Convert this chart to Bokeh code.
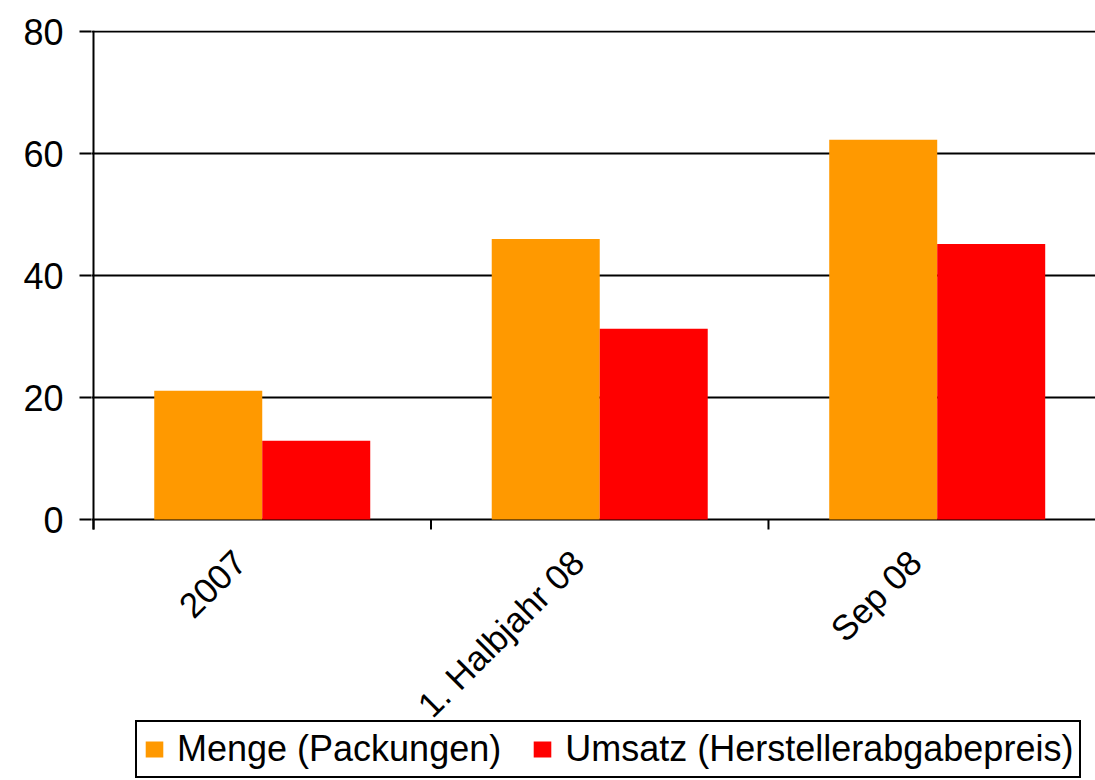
import math
from bokeh.plotting import figure
from bokeh.models import Range1d, FixedTicker, Legend, LegendItem
from bokeh.core.properties import value
from bokeh.embed import file_html
from bokeh.resources import INLINE

categories = ["2007", "1. Halbjahr 08", "Sep 08"]
menge = [21.1, 46.0, 62.3]
umsatz = [12.9, 31.3, 45.2]
y_ticks = [0, 20, 40, 60, 80]
series_names = ["Menge (Packungen)", "Umsatz (Herstellerabgabepreis)"]
colors = ["#FF9900", "#FF0000"]

FONT = "Liberation Sans"

# layout constants (pixels)
PLOT_H = 489          # height of the value area (0 .. 80.2)
Y_TOP = 80.2
PX = PLOT_H / Y_TOP   # pixels per value unit
BELOW = 261           # space under the zero line for labels and legend
CAT_PX = 337.5        # pixels per category
y_low = -BELOW / PX

p = figure(frame_width=1004, frame_height=PLOT_H + BELOW, output_backend="svg",
           toolbar_location=None, x_axis_location=None,
           x_range=Range1d(-2 / CAT_PX, 2.969), y_range=Range1d(y_low, Y_TOP),
           min_border_left=91, min_border_right=0, min_border_top=30,
           min_border_bottom=0, title=None)

centers = [i + 0.5 for i in range(len(categories))]
bw = 0.32
r1 = p.vbar(x=[c - bw / 2 for c in centers], top=menge, width=bw,
            fill_color=colors[0], line_color=None)
r2 = p.vbar(x=[c + bw / 2 for c in centers], top=umsatz, width=bw,
            fill_color=colors[1], line_color=None)

p.outline_line_color = None
p.xgrid.visible = False
p.ygrid.ticker = FixedTicker(ticks=y_ticks)   # 0-line serves as category axis
p.ygrid.grid_line_color = "black"
p.ygrid.grid_line_width = 2

# value axis line (drawn from the value range down to the tick length)
tick_len = 10 / PX
p.segment(x0=[0], y0=[-tick_len], x1=[0], y1=[Y_TOP], line_color="black", line_width=2)

# category boundary tick marks
bounds = list(range(len(categories) + 1))
p.segment(x0=bounds, y0=[0] * len(bounds), x1=bounds, y1=[-tick_len] * len(bounds),
          line_color="black", line_width=2)

# rotated category labels
p.text(x=[c - 22 / CAT_PX for c in centers], y=[-37 / PX] * len(centers), text=categories,
       angle=math.pi / 4, text_align="right", text_baseline="middle",
       text_font=value(FONT), text_font_size=value("35px"), text_color="black")

# y axis
p.yaxis.ticker = FixedTicker(ticks=y_ticks)
p.yaxis.axis_line_color = None
p.yaxis.major_tick_line_width = 2
p.yaxis.major_tick_line_color = "black"
p.yaxis.major_tick_out = 12
p.yaxis.major_tick_in = 0
p.yaxis.minor_tick_line_color = None
p.yaxis.major_label_text_font = FONT
p.yaxis.major_label_text_font_size = "36px"
p.yaxis.major_label_text_color = "black"
p.yaxis.major_label_standoff = 16

legend = Legend(items=[LegendItem(label=series_names[0], renderers=[r1]),
                       LegendItem(label=series_names[1], renderers=[r2])],
                orientation="horizontal", location=(44, 2))
legend.border_line_color = "black"
legend.border_line_alpha = 1.0
legend.border_line_width = 2
legend.background_fill_color = "white"
legend.background_fill_alpha = 1.0
legend.label_text_font = FONT
legend.label_text_font_size = "36px"
legend.label_text_color = "black"
legend.glyph_width = 22
legend.glyph_height = 20
legend.label_standoff = 12
legend.spacing = 30
legend.padding = 6
legend.margin = 0
p.add_layout(legend)

open("out.html", "w").write(file_html(p, INLINE))
